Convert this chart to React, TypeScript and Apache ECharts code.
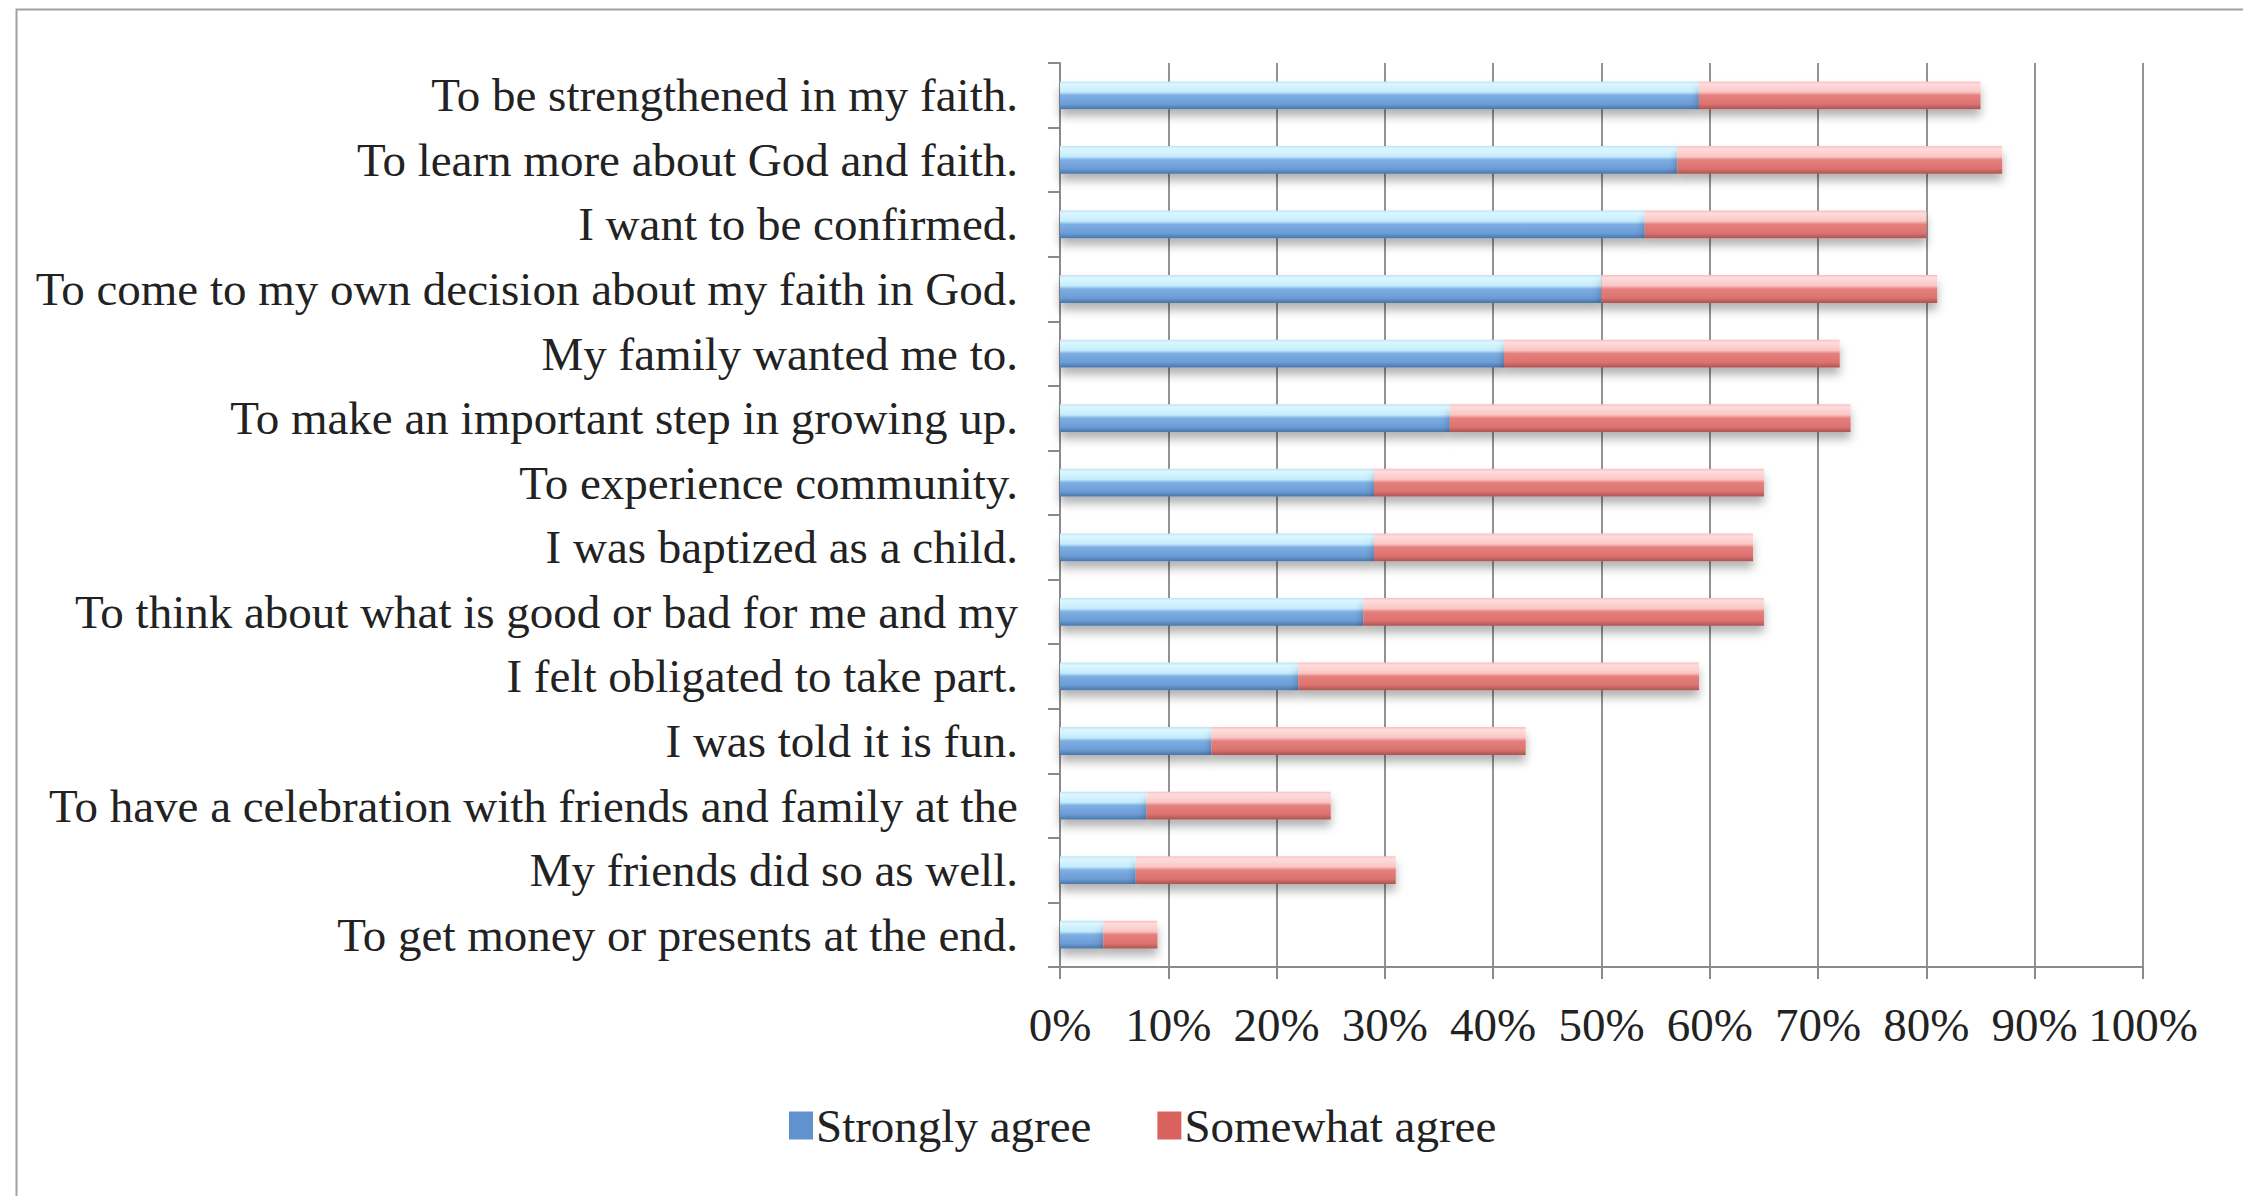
import React, { useEffect, useRef } from "react";
import * as echarts from "echarts";

const categories = [
  "To be strengthened in my faith.",
  "To learn more about God and faith.",
  "I want to be confirmed.",
  "To come to my own decision about my faith in God.",
  "My family wanted me to.",
  "To make an important step in growing up.",
  "To experience community.",
  "I was baptized as a child.",
  "To think about what is good or bad for me and my",
  "I felt obligated to take part.",
  "I was told it is fun.",
  "To have a celebration with friends and family at the",
  "My friends did so as well.",
  "To get money or presents at the end.",
];

const stronglyAgree = [59, 57, 54, 50, 41, 36, 29, 29, 28, 22, 14, 8, 7, 4];
const somewhatAgree = [26, 30, 26, 31, 31, 37, 36, 35, 37, 37, 29, 17, 24, 5];

const xTicks = [0, 10, 20, 30, 40, 50, 60, 70, 80, 90, 100];

const FONT = "'Liberation Serif', 'DejaVu Serif', serif";

const blueGrad = () =>
  new echarts.graphic.LinearGradient(0, 0, 0, 1, [
    { offset: 0, color: "#bfe2f8" },
    { offset: 0.1, color: "#dcf7ff" },
    { offset: 0.38, color: "#c4ecfd" },
    { offset: 0.5, color: "#7eaee3" },
    { offset: 0.82, color: "#6b9cd6" },
    { offset: 1, color: "#4a76a8" },
  ]);

const redGrad = () =>
  new echarts.graphic.LinearGradient(0, 0, 0, 1, [
    { offset: 0, color: "#f6c0be" },
    { offset: 0.1, color: "#ffdcdc" },
    { offset: 0.38, color: "#fac6c5" },
    { offset: 0.5, color: "#e5807d" },
    { offset: 0.82, color: "#dc726f" },
    { offset: 1, color: "#ab5451" },
  ]);

export default function App() {
  const ref = useRef<HTMLDivElement>(null);

  useEffect(() => {
    if (!ref.current) return;
    const chart = echarts.init(ref.current, undefined, { renderer: "svg" });
    const barStyle = (grad: any) => ({
      color: grad,
      shadowBlur: 10,
      shadowColor: "rgba(0,0,0,0.3)",
      shadowOffsetY: 7,
    });
    chart.setOption({
      animation: false,
      backgroundColor: "#ffffff",
      graphic: [
        {
          type: "rect",
          left: 14,
          top: 7,
          shape: { width: 2260, height: 1220 },
          style: { fill: "none", stroke: "#a0a0a0", lineWidth: 2 },
          silent: true,
          z: -10,
        },
      ],
      grid: { left: 1060, right: 100, top: 63, bottom: 229, containLabel: false },
      legend: {
        left: 784,
        top: 1097,
        itemWidth: 24,
        itemHeight: 28,
        itemGap: 66,
        icon: "rect",
        textStyle: { fontFamily: FONT, fontSize: 47, color: "#222", padding: [0, 0, 0, -2] },
        data: [
          { name: "Strongly agree", itemStyle: { color: "#5f92cf" } },
          { name: "Somewhat agree", itemStyle: { color: "#d9625e" } },
        ],
      },
      xAxis: {
        type: "value",
        min: xTicks[0],
        max: xTicks[xTicks.length - 1],
        interval: 10,
        axisLine: { show: true, lineStyle: { color: "#8a8a8a", width: 2 } },
        axisTick: { show: true, length: 12, lineStyle: { color: "#8a8a8a", width: 2 } },
        splitLine: { show: true, lineStyle: { color: "#939393", width: 2 } },
        axisLabel: {
          formatter: "{value}%",
          fontFamily: FONT,
          fontSize: 47,
          color: "#222",
          margin: 34,
        },
      },
      yAxis: {
        type: "category",
        inverse: true,
        data: categories,
        axisLine: { show: true, lineStyle: { color: "#8a8a8a", width: 2 } },
        axisTick: { show: true, length: 12, lineStyle: { color: "#8a8a8a", width: 2 } },
        axisLabel: {
          fontFamily: FONT,
          fontSize: 47,
          color: "#222",
          margin: 42,
        },
      },
      series: [
        {
          name: "Strongly agree",
          type: "bar",
          stack: "total",
          barWidth: "43%",
          data: stronglyAgree,
          itemStyle: barStyle(blueGrad()),
        },
        {
          name: "Somewhat agree",
          type: "bar",
          stack: "total",
          barWidth: "43%",
          data: somewhatAgree,
          itemStyle: barStyle(redGrad()),
        },
      ],
    });
    return () => chart.dispose();
  }, []);

  return (
    <div
      ref={ref}
      style={{ position: "fixed", left: 0, top: 0, width: 2243, height: 1196 }}
    />
  );
}
